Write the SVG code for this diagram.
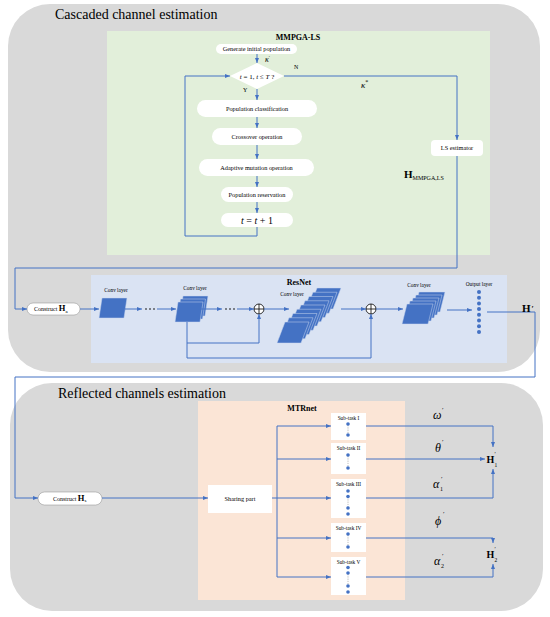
<svg xmlns="http://www.w3.org/2000/svg" width="550" height="617" viewBox="0 0 550 617">
<style>
.ln{stroke:#4472c4;stroke-width:1;fill:none}
.ar{marker-end:url(#ah)}
.t{font-family:"Liberation Serif","Times New Roman",serif;fill:#000}
.s6{font-size:6.3px}
.s5{font-size:5.3px}
.b8{font-size:8px;font-weight:bold}
.pill{fill:#fff}
.cv{fill:#4472c4;stroke:#c9d6ee;stroke-width:0.5}
.dot{fill:#4472c4}
.dl{stroke:#666;stroke-width:0.6;stroke-dasharray:0.7 1.1}
.big{font-size:14px}
.gr{font-size:12px;font-style:italic}
.pr{font-size:7px}
</style>
<defs>
<marker id="ah" markerUnits="userSpaceOnUse" markerWidth="5" markerHeight="4" viewBox="0 0 5 4" refX="5" refY="2" orient="auto"><path d="M0,0L5,2L0,4z" fill="#4472c4"/></marker>
<polygon id="l1" points="3,0 28,0 25,20 0,20"/>
<polygon id="l2" points="8,0 32,0 24,21 0,21"/>
<polygon id="l3" points="5,0 31,0 26,20 0,20"/>
</defs>

<g id="panel-cascaded">
<rect x="8" y="4" width="532" height="368" rx="42" fill="#d9d9d9"/>
<text class="t big" x="55" y="19">Cascaded channel estimation</text>
</g>

<g id="mmpga-ls">
<rect x="107" y="31" width="383" height="224" fill="#e2efda"/>
<text class="t b8" x="298" y="40" text-anchor="middle">MMPGA-LS</text>
</g>

<g id="n-generate">
<rect class="pill" x="216" y="44" width="81" height="10" rx="5"/>
<text class="t s6" x="256.5" y="51.3" text-anchor="middle">Generate initial population</text>
</g>
<g id="n-condition">
<polygon points="230,76 257,63 284,76 257,89" fill="#fff"/>
<text class="t" font-size="7" x="257" y="78.5" text-anchor="middle"><tspan font-style="italic">t</tspan> = 1, <tspan font-style="italic">t</tspan> ≤ <tspan font-style="italic">T</tspan> ?</text>
</g>
<g id="n-classification">
<rect class="pill" x="197" y="100" width="120" height="17" rx="8.5"/>
<text class="t s6" x="257" y="110.5" text-anchor="middle">Population classification</text>
</g>
<g id="n-crossover">
<rect class="pill" x="212" y="128" width="90" height="17" rx="8.5"/>
<text class="t s6" x="257" y="138.5" text-anchor="middle">Crossover operation</text>
</g>
<g id="n-mutation">
<rect class="pill" x="199" y="159" width="115" height="17" rx="8.5"/>
<text class="t s6" x="256.5" y="169.5" text-anchor="middle">Adaptive mutation operation</text>
</g>
<g id="n-reservation">
<rect class="pill" x="221" y="187" width="72" height="15" rx="7.5"/>
<text class="t s6" x="257" y="196.5" text-anchor="middle">Population reservation</text>
</g>
<g id="n-increment">
<rect class="pill" x="221" y="213" width="72" height="14" rx="7"/>
<text class="t" font-size="10" x="257" y="223.5" text-anchor="middle"><tspan font-style="italic">t</tspan> = <tspan font-style="italic">t</tspan> + 1</text>
</g>
<g id="n-ls">
<rect class="pill" x="431" y="140" width="52" height="16" rx="4"/>
<text class="t s6" x="457" y="150.3" text-anchor="middle">LS estimator</text>
</g>

<g id="resnet">
<rect x="91" y="275" width="416" height="88" fill="#dae3f3"/>
<text class="t b8" x="299" y="285" text-anchor="middle">ResNet</text>
</g>

<g id="n-construct-a">
<rect x="27" y="303" width="53" height="12" rx="6" fill="#fff" stroke="#8a8a8a" stroke-width="0.5"/>
<text class="t" x="34" y="311"><tspan font-size="6">Construct </tspan><tspan font-size="8.5" font-weight="bold">H</tspan><tspan font-size="5" dy="1.5">a</tspan></text>
</g>

<g id="n-conv1">
<use href="#l1" class="cv" x="99" y="298"/>
<text class="t s5" x="116" y="292" text-anchor="middle">Conv layer</text>
</g>
<g id="n-conv2">
<use href="#l1" class="cv" x="180" y="296"/>
<use href="#l1" class="cv" x="177.5" y="299"/>
<use href="#l1" class="cv" x="175" y="302"/>
<text class="t s5" x="195" y="290" text-anchor="middle">Conv layer</text>
</g>
<g id="n-sum1">
<circle cx="259" cy="309" r="5" fill="#fff" stroke="#000" stroke-width="0.8"/>
<path d="M254,309H264M259,304V314" stroke="#000" stroke-width="0.8"/>
</g>
<g id="n-conv-deep">
<use href="#l2" class="cv" x="309" y="288"/>
<use href="#l2" class="cv" x="305" y="292.25"/>
<use href="#l2" class="cv" x="301" y="296.5"/>
<use href="#l2" class="cv" x="297" y="300.75"/>
<use href="#l2" class="cv" x="293" y="305"/>
<use href="#l2" class="cv" x="289" y="309.25"/>
<use href="#l2" class="cv" x="285" y="313.5"/>
<use href="#l2" class="cv" x="281" y="317.75"/>
<use href="#l2" class="cv" x="277" y="322"/>
<text class="t s5" x="292" y="296" text-anchor="middle">Conv layer</text>
</g>
<g id="n-sum2">
<circle cx="371" cy="309" r="5" fill="#fff" stroke="#000" stroke-width="0.8"/>
<path d="M366,309H376M371,304V314" stroke="#000" stroke-width="0.8"/>
</g>
<g id="n-conv3">
<use href="#l3" class="cv" x="414" y="292"/>
<use href="#l3" class="cv" x="411" y="295"/>
<use href="#l3" class="cv" x="408" y="298"/>
<use href="#l3" class="cv" x="405" y="301"/>
<use href="#l3" class="cv" x="402" y="304"/>
<text class="t s5" x="419" y="287" text-anchor="middle">Conv layer</text>
</g>
<g id="n-output">
<circle class="dot" cx="479" cy="292" r="2"/>
<circle class="dot" cx="479" cy="297.7" r="2"/>
<circle class="dot" cx="479" cy="303.4" r="2"/>
<circle class="dot" cx="479" cy="309.1" r="2"/>
<circle class="dot" cx="479" cy="314.8" r="2"/>
<circle class="dot" cx="479" cy="320.5" r="2"/>
<circle class="dot" cx="479" cy="326.2" r="2"/>
<circle class="dot" cx="479" cy="332" r="2"/>
<text class="t s5" x="479" y="286" text-anchor="middle">Output layer</text>
</g>

<g id="panel-reflected">
<rect x="10" y="383" width="533" height="228" rx="42" fill="#d9d9d9"/>
<text class="t big" x="58" y="398">Reflected channels estimation</text>
</g>
<g id="mtrnet">
<rect x="198" y="401" width="207" height="199" fill="#fbe5d6"/>
<text class="t b8" x="302" y="411" text-anchor="middle">MTRnet</text>
</g>
<g id="n-construct-s">
<rect x="38" y="492" width="64" height="13" rx="6.5" fill="#fff" stroke="#8a8a8a" stroke-width="0.5"/>
<text class="t" x="53" y="500.5"><tspan font-size="6">Construct </tspan><tspan font-size="8.5" font-weight="bold">H</tspan><tspan font-size="5" dy="1.5">s</tspan></text>
</g>
<g id="n-sharing">
<rect x="208" y="485" width="64" height="28" fill="#fff"/>
<text class="t s6" x="240" y="501" text-anchor="middle">Sharing part</text>
</g>
<g id="n-sub1">
<rect x="331" y="413" width="35" height="27" fill="#fff"/>
<text class="t s5" x="348.5" y="419.5" text-anchor="middle">Sub-task I</text>
<line class="dl" x1="348" y1="425" x2="348" y2="434"/>
<circle class="dot" cx="348" cy="424" r="1.8"/><circle class="dot" cx="348" cy="435" r="1.8"/>
</g>
<g id="n-sub2">
<rect x="331" y="443" width="35" height="31" fill="#fff"/>
<text class="t s5" x="348.5" y="449.5" text-anchor="middle">Sub-task II</text>
<line class="dl" x1="348" y1="456" x2="348" y2="467"/>
<circle class="dot" cx="348" cy="455" r="1.8"/><circle class="dot" cx="348" cy="468" r="1.8"/>
</g>
<g id="n-sub3">
<rect x="331" y="479" width="35" height="39" fill="#fff"/>
<text class="t s5" x="348.5" y="485.5" text-anchor="middle">Sub-task III</text>
<line class="dl" x1="348" y1="497" x2="348" y2="507"/>
<circle class="dot" cx="348" cy="491" r="1.8"/><circle class="dot" cx="348" cy="496.5" r="1.8"/><circle class="dot" cx="348" cy="508" r="1.8"/><circle class="dot" cx="348" cy="514" r="1.8"/>
</g>
<g id="n-sub4">
<rect x="331" y="523" width="35" height="29" fill="#fff"/>
<text class="t s5" x="348.5" y="529.5" text-anchor="middle">Sub-task IV</text>
<line class="dl" x1="348" y1="535" x2="348" y2="546"/>
<circle class="dot" cx="348" cy="534" r="1.8"/><circle class="dot" cx="348" cy="547" r="1.8"/>
</g>
<g id="n-sub5">
<rect x="331" y="557" width="35" height="38" fill="#fff"/>
<text class="t s5" x="348.5" y="563.5" text-anchor="middle">Sub-task V</text>
<line class="dl" x1="348" y1="574" x2="348" y2="585"/>
<circle class="dot" cx="348" cy="567.5" r="1.8"/><circle class="dot" cx="348" cy="573" r="1.8"/><circle class="dot" cx="348" cy="586" r="1.8"/><circle class="dot" cx="348" cy="592" r="1.8"/>
</g>
<g id="n-h1">
<text class="t" font-size="10" font-weight="bold" x="486.5" y="463">H</text>
<text class="t" font-size="6" x="494.5" y="456">′</text>
<text class="t" font-size="5.5" x="494.5" y="467">1</text>
</g>
<g id="n-h2">
<text class="t" font-size="10" font-weight="bold" x="486.5" y="558">H</text>
<text class="t" font-size="6" x="494.5" y="551">′</text>
<text class="t" font-size="5.5" x="494.5" y="562">2</text>
</g>

<g id="connectors">
<path class="ln ar" d="M257,54V63"/>
<path class="ln ar" d="M257,89V100"/>
<path class="ln ar" d="M257,117V128"/>
<path class="ln ar" d="M257,145V159"/>
<path class="ln ar" d="M257,176V187"/>
<path class="ln ar" d="M257,202V213"/>
<path class="ln ar" d="M257,227V236H185V76H230"/>
<path class="ln ar" d="M284,76H457V140"/>
<path class="ln ar" d="M457,156V268H15V309H27"/>
<path class="ln ar" d="M80,309H99"/>
<path class="ln ar" d="M125,309H142"/>
<path class="ln ar" d="M157,309H176"/>
<path class="ln ar" d="M201,309H222"/>
<path class="ln ar" d="M237,309H254"/>
<path class="ln ar" d="M187,322V343H259V314"/>
<path class="ln ar" d="M187,343V358H371V314"/>
<path class="ln ar" d="M264,309H289"/>
<path class="ln ar" d="M341,309H366"/>
<path class="ln ar" d="M376,309H403"/>
<path class="ln ar" d="M447,310H472"/>
<path class="ln ar" d="M487,312H535V377H15V498H38"/>
<path class="ln ar" d="M102,498H208"/>
<path class="ln ar" d="M272,498H331"/>
<path class="ln" d="M277,426V577"/>
<path class="ln ar" d="M277,426H331"/>
<path class="ln ar" d="M277,459H331"/>
<path class="ln ar" d="M277,538H331"/>
<path class="ln ar" d="M277,577H331"/>
<path class="ln ar" d="M366,426H493V447"/>
<path class="ln ar" d="M366,459H485"/>
<path class="ln ar" d="M366,498H493V469"/>
<path class="ln ar" d="M366,538H493V543"/>
<path class="ln ar" d="M366,577H493V564"/>
<g fill="#000">
<circle cx="146" cy="309" r="0.8"/><circle cx="150" cy="309" r="0.8"/><circle cx="154" cy="309" r="0.8"/>
<circle cx="226" cy="309" r="0.8"/><circle cx="230" cy="309" r="0.8"/><circle cx="234" cy="309" r="0.8"/>
</g>
</g>

<g id="labels">
<text class="t" font-size="8" font-style="italic" x="265" y="62">κ<tspan font-size="5" dy="-3" font-style="normal">′</tspan></text>
<text class="t" font-size="6" x="294" y="69">N</text>
<text class="t" font-size="6" x="243" y="92">Y</text>
<text class="t" font-size="9" font-style="italic" x="361" y="88">κ<tspan font-size="6" dy="-4" font-style="normal">*</tspan></text>
<text class="t" x="404" y="178"><tspan font-size="11" font-weight="bold">H</tspan><tspan font-size="6" dy="2">MMPGA,LS</tspan></text>
<text class="t" x="522" y="312"><tspan font-size="11" font-weight="bold">H</tspan><tspan font-size="8" font-weight="bold" dx="1">′</tspan></text>
<text class="t gr" x="433" y="419">ω</text><text class="t pr" x="442" y="412">′</text>
<text class="t gr" x="435" y="452">θ</text><text class="t pr" x="442" y="444">′</text>
<text class="t gr" x="433" y="488">α</text><text class="t pr" x="441" y="481">′</text><text class="t" font-size="6" x="440" y="491">1</text>
<text class="t gr" x="435" y="525">ϕ</text><text class="t pr" x="443" y="516">′</text>
<text class="t gr" x="434" y="565">α</text><text class="t pr" x="442" y="558">′</text><text class="t" font-size="6" x="441" y="568">2</text>
</g>
</svg>
